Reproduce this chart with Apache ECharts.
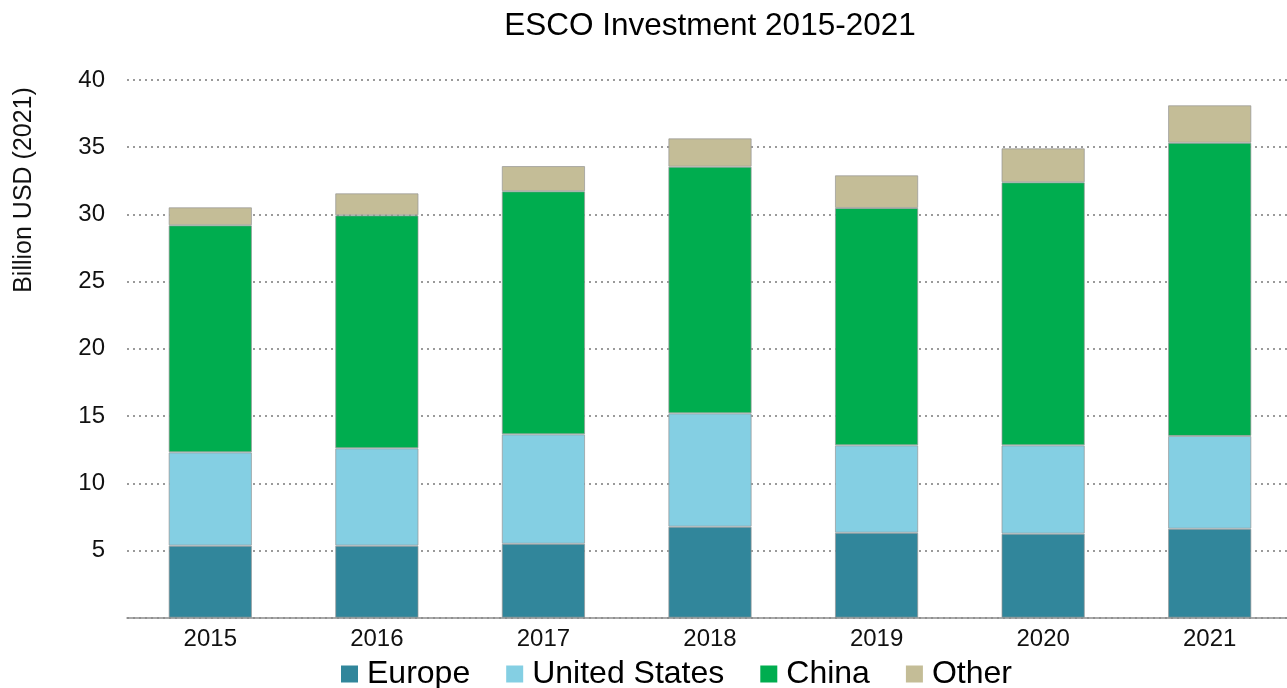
<!DOCTYPE html>
<html>
<head>
<meta charset="utf-8">
<title>ESCO Investment 2015-2021</title>
<script src="https://cdn.jsdelivr.net/npm/echarts@6/dist/echarts.min.js"></script>
<style>
  html, body { margin: 0; padding: 0; background: #ffffff; }
  #chart { width: 1287px; height: 688px; }
</style>
</head>
<body>
<div id="chart"></div>
<script>
// Investment by region, billion USD (2021)
const years = ['2015', '2016', '2017', '2018', '2019', '2020', '2021'];
const europe = [5.36, 5.36, 5.50, 6.77, 6.32, 6.25, 6.62];
const unitedStates = [6.94, 7.24, 8.14, 8.43, 6.50, 6.57, 6.90];
const china = [16.89, 17.33, 18.08, 18.35, 17.66, 19.57, 21.81];
const other = [1.34, 1.64, 1.88, 2.11, 2.43, 2.53, 2.79];

const FONT = '"Liberation Sans", Arial, sans-serif';

function stackSeries(name, data, color) {
  return {
    name: name,
    type: 'bar',
    stack: 'total',
    data: data,
    barWidth: '50%',
    itemStyle: {
      color: color,
      borderColor: 'rgba(150,150,150,0.7)',
      borderWidth: 1
    }
  };
}

const chart = echarts.init(document.getElementById('chart'));
chart.setOption({
  animation: false,
  backgroundColor: '#ffffff',
  title: {
    text: 'ESCO Investment 2015-2021',
    left: 705,
    top: 5,
    textAlign: 'center',
    textStyle: { fontFamily: FONT, fontSize: 31.5, fontWeight: 'normal', color: '#000' }
  },
  legend: {
    data: ['Europe', 'United States', 'China', 'Other'],
    left: 341,
    top: 658,
    padding: 0,
    icon: 'rect',
    itemWidth: 17,
    itemHeight: 17,
    itemGap: 36,
    itemStyle: { borderWidth: 0 },
    textStyle: { fontFamily: FONT, fontSize: 32, color: '#000', padding: [0, 0, 0, 4] }
  },
  grid: {
    left: 127, top: 80, width: 1166, height: 537.7,
    containLabel: false,
    outerBoundsMode: 'none'
  },
  xAxis: {
    type: 'category',
    data: years,
    axisLine: { show: true, lineStyle: { color: '#8c8c8c', width: 1.5 } },
    axisTick: { show: false },
    axisLabel: { fontFamily: FONT, fontSize: 24, color: '#111', margin: 10 }
  },
  yAxis: {
    type: 'value',
    min: 0,
    max: 40,
    interval: 5,
    axisLine: { show: false },
    axisTick: { show: false },
    axisLabel: {
      fontFamily: FONT, fontSize: 24, color: '#111', margin: 22,
      formatter: function (v) { return v === 0 ? '' : String(v); }
    },
    splitLine: { show: true, lineStyle: { color: '#9a9a9a', width: 2, type: [2, 4] } }
  },
  graphic: [{
    type: 'text',
    x: 24,
    y: 190,
    rotation: Math.PI / 2,
    style: {
      text: 'Billion USD (2021)',
      fontFamily: FONT,
      fontSize: 25,
      fill: '#111',
      align: 'center',
      verticalAlign: 'middle'
    }
  }],
  series: [
    stackSeries('Europe', europe, '#31869b'),
    stackSeries('United States', unitedStates, '#84cfe3'),
    stackSeries('China', china, '#00ad4f'),
    stackSeries('Other', other, '#c4bd97')
  ]
});
</script>
</body>
</html>
